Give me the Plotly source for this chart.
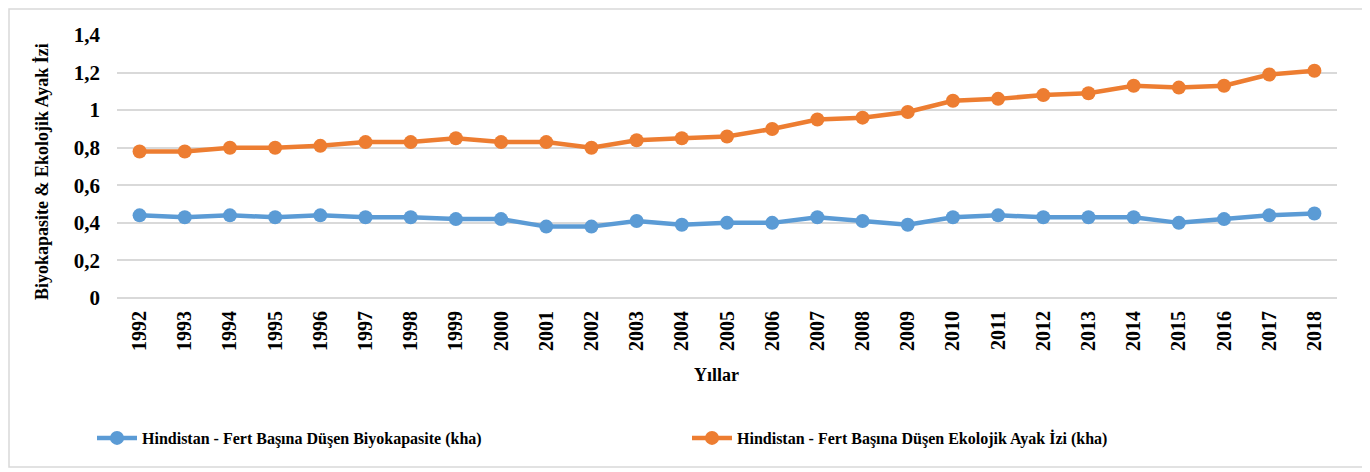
import plotly.graph_objects as go

years = [str(y) for y in range(1992, 2019)]
biyokapasite = [0.44, 0.43, 0.44, 0.43, 0.44, 0.43, 0.43, 0.42, 0.42, 0.38, 0.38, 0.41, 0.39, 0.40,
                0.40, 0.43, 0.41, 0.39, 0.43, 0.44, 0.43, 0.43, 0.43, 0.40, 0.42, 0.44, 0.45]
ayak_izi = [0.78, 0.78, 0.80, 0.80, 0.81, 0.83, 0.83, 0.85, 0.83, 0.83, 0.80, 0.84, 0.85, 0.86,
            0.90, 0.95, 0.96, 0.99, 1.05, 1.06, 1.08, 1.09, 1.13, 1.12, 1.13, 1.19, 1.21]
name_bio = "Hindistan - Fert Başına Düşen Biyokapasite (kha)"
name_eco = "Hindistan - Fert Başına Düşen Ekolojik Ayak İzi (kha)"

FONT = "Liberation Serif"
OFF = 8  # page body margin
W, H = 1370 - OFF, 472 - OFF
ML, MR, MT, MB = 117 - OFF, 33, 35 - OFF, 174
PW, PH = W - ML - MR, H - MT - MB


def px(xr):
    return (xr - OFF - ML) / PW


def py(yr):
    return (MT + PH - (yr - OFF)) / PH


fig = go.Figure()
fig.add_trace(go.Scatter(x=years, y=biyokapasite, name="<b>" + name_bio + "</b>", mode="lines+markers",
                         line=dict(color="#5B9BD5", width=4.5),
                         marker=dict(size=14, color="#5B9BD5")))
fig.add_trace(go.Scatter(x=years, y=ayak_izi, name="<b>" + name_eco + "</b>", mode="lines+markers",
                         line=dict(color="#ED7D31", width=4.5),
                         marker=dict(size=14, color="#ED7D31")))

fig.update_layout(
    width=W, height=H,
    margin=dict(l=ML, r=MR, t=MT, b=MB, autoexpand=False),
    paper_bgcolor="white", plot_bgcolor="white",
    separators=",.",
    font=dict(family=FONT, color="black"),
    showlegend=True,
    legend=dict(orientation="h", x=px(92), xanchor="left",
                y=py(438), yanchor="middle",
                entrywidth=540, entrywidthmode="pixels",
                font=dict(family=FONT, size=16, color="black"),
                itemwidth=40, bgcolor="rgba(0,0,0,0)"),
    xaxis=dict(type="category", range=[-0.5, 26.5], tickangle=-90, showgrid=False, showline=False,
               ticks="", automargin=False, tickprefix="<b>", ticksuffix="</b>",
               tickfont=dict(family=FONT, size=20, color="black"), ticklabelstandoff=8),
    yaxis=dict(range=[0, 1.4], dtick=0.2, showgrid=True, gridcolor="#D9D9D9", gridwidth=1.5,
               zeroline=True, zerolinecolor="#D9D9D9", zerolinewidth=1.5, showline=False,
               automargin=False, tickprefix="<b>", ticksuffix="</b>",
               tickfont=dict(family=FONT, size=21, color="black"), ticklabelstandoff=16),
    shapes=[dict(type="rect", xref="paper", yref="paper",
                 x0=px(9), x1=px(1365), y0=py(467), y1=py(9),
                 line=dict(color="#D9D9D9", width=1.5), fillcolor="rgba(0,0,0,0)", layer="below")],
    annotations=[
        dict(text="<b>Biyokapasite &amp; Ekolojik Ayak İzi</b>", textangle=-90,
             xref="paper", yref="paper", x=px(42), y=py(172),
             xanchor="center", yanchor="middle", showarrow=False,
             font=dict(family=FONT, size=18, color="black")),
        dict(text="<b>Yıllar</b>", xref="paper", yref="paper",
             x=px(716), y=py(375),
             xanchor="center", yanchor="middle", showarrow=False,
             font=dict(family=FONT, size=18, color="black")),
    ],
)

fig.write_html("out.html")
